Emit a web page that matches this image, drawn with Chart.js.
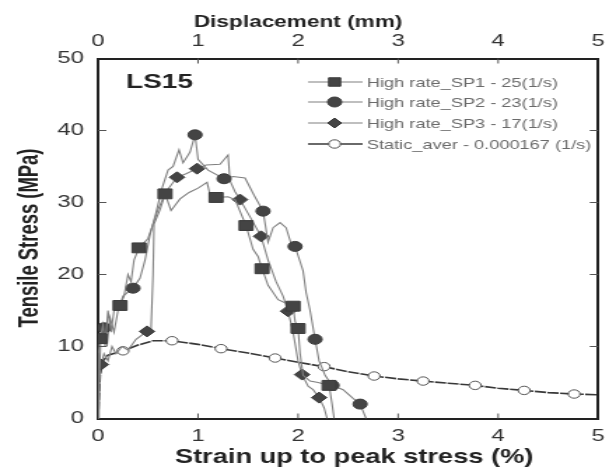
<!DOCTYPE html>
<html>
<head>
<meta charset="utf-8">
<script src="https://cdn.jsdelivr.net/npm/chart.js@4.4.1/dist/chart.umd.min.js"></script>
<style>
  html, body { margin: 0; padding: 0; background: #fff; overflow: hidden; }
  #chart { display: block; width: 616px !important; height: 471px !important; }
</style>
</head>
<body>
<canvas id="chart" width="440" height="471" style="width:616px;height:471px"></canvas>
<script>
// strain (%) and stress (MPa)
const sp1Strain = [0, 0.01, 0.0, 0.02, 0.05, 0.07, 0.1, 0.13, 0.17, 0.22, 0.26, 0.3, 0.33, 0.36, 0.41, 0.5, 0.55, 0.6, 0.67, 0.73, 0.82, 0.91, 1.0, 1.09, 1.13, 1.18, 1.3, 1.37, 1.48, 1.55, 1.6, 1.64, 1.7, 1.8, 1.88, 1.95, 1.97, 2.0, 2.02, 2.05, 2.12, 2.2, 2.31, 2.34, 2.36];
const sp1Stress = [0, 6, 9, 11.1, 13, 10, 15, 12, 16, 15.7, 17, 20, 19, 22, 23.7, 25, 27, 29, 31.2, 28.9, 30.5, 31.4, 32, 32.8, 30.5, 30.7, 30.8, 30.4, 26.8, 23.5, 22.5, 20.8, 18.5, 16.5, 16, 15.6, 13.5, 12.5, 9, 6, 5.2, 5, 4.6, 2, 0];
const sp1Marks = [3, 9, 14, 18, 25, 28, 31, 35, 37, 42];

const sp2Strain = [0, 0.02, 0.03, 0.06, 0.09, 0.12, 0.16, 0.2, 0.25, 0.35, 0.42, 0.47, 0.52, 0.58, 0.64, 0.7, 0.75, 0.81, 0.85, 0.92, 0.97, 1.0, 1.1, 1.26, 1.35, 1.47, 1.56, 1.65, 1.7, 1.75, 1.82, 1.88, 1.93, 1.97, 2.05, 2.08, 2.12, 2.17, 2.21, 2.27, 2.34, 2.45, 2.55, 2.62, 2.65, 2.68];
const sp2Stress = [0, 8, 12, 12.6, 10, 14, 12, 15, 17, 18.1, 19.5, 22, 25.5, 28.6, 32, 34.5, 35, 37.3, 35.5, 37, 39.4, 36, 34.5, 33.3, 33.6, 33.4, 31, 28.8, 24.5, 26.5, 27.2, 26.5, 24.3, 23.9, 20.5, 17.5, 15, 11, 8, 6, 4.6, 4, 2.8, 2, 1, 0];
const sp2Marks = [3, 9, 20, 23, 27, 33, 37, 40, 43];

const sp3Strain = [0, 0.01, 0.03, 0.06, 0.1, 0.14, 0.18, 0.24, 0.3, 0.38, 0.49, 0.53, 0.55, 0.56, 0.62, 0.68, 0.79, 0.88, 0.99, 1.08, 1.22, 1.3, 1.32, 1.37, 1.42, 1.52, 1.63, 1.7, 1.78, 1.85, 1.9, 1.95, 2.0, 2.04, 2.1, 2.15, 2.21, 2.26, 2.29];
const sp3Stress = [0, 5, 7.5, 9, 8, 10, 9, 10, 9.5, 11, 12.1, 12.5, 20, 27, 29, 31.5, 33.5, 34, 34.7, 35.2, 35.3, 36.6, 33, 31.5, 30.4, 28, 25.3, 22, 19, 17, 14.9, 12, 8, 6.1, 4.5, 4, 2.9, 1.5, 0];
const sp3Marks = [2, 10, 16, 18, 24, 26, 30, 33, 36];

const staticStrain = [0, 0.02, 0.05, 0.1, 0.25, 0.4, 0.55, 0.74, 1.0, 1.23, 1.5, 1.77, 2.0, 2.26, 2.5, 2.76, 3.0, 3.25, 3.5, 3.77, 4.0, 4.26, 4.5, 4.76, 5.0];
const staticStress = [0, 6, 8, 8.8, 9.4, 10.2, 10.8, 10.8, 10.3, 9.7, 9.1, 8.4, 7.8, 7.2, 6.5, 5.9, 5.5, 5.2, 4.9, 4.6, 4.2, 3.9, 3.6, 3.4, 3.3];
const staticMarks = [4, 7, 9, 11, 13, 15, 17, 19, 21, 23];

const seriesNames = [
  "High rate_SP1 - 25(1/s)",
  "High rate_SP2 - 23(1/s)",
  "High rate_SP3 - 17(1/s)",
  "Static_aver - 0.000167 (1/s)",
];
const xTicks = [0, 1, 2, 3, 4, 5];
const yTicks = [0, 10, 20, 30, 40, 50];
const specimen = "LS15";
const xTitle = "Strain up to peak stress (%)";
const x2Title = "Displacement (mm)";
const yTitle = "Tensile Stress (MPa)";

const FONT = "'Liberation Sans', Arial, sans-serif";

function toPoints(xs, ys) {
  return xs.map((x, i) => ({ x: x, y: ys[i] }));
}

function makeSet(label, xs, ys, marks, style, radius, fill, border) {
  return {
    label: label,
    data: toPoints(xs, ys),
    showLine: true,
    borderColor: border,
    borderWidth: style.width,
    borderDash: style.dash || [],
    pointStyle: style.point,
    pointRadius: (c) => (marks.includes(c.dataIndex) ? radius : 0),
    pointBackgroundColor: fill,
    pointBorderColor: style.pointBorder,
    pointBorderWidth: 1,
    tension: 0,
  };
}

const datasets = [
  makeSet(seriesNames[0], sp1Strain, sp1Stress, sp1Marks,
    { width: 1.1, point: "rect", pointBorder: "#3c3c3c" }, 7, "#444", "#808080"),
  makeSet(seriesNames[1], sp2Strain, sp2Stress, sp2Marks,
    { width: 1.1, point: "circle", pointBorder: "#3c3c3c" }, 5, "#444", "#808080"),
  makeSet(seriesNames[2], sp3Strain, sp3Stress, sp3Marks,
    { width: 1.1, point: "rectRot", pointBorder: "#3c3c3c" }, 5.5, "#444", "#808080"),
  makeSet(seriesNames[3], staticStrain, staticStress, staticMarks,
    { width: 1.6, dash: [8, 1], point: "circle", pointBorder: "#555" }, 4.2, "#fff", "#383838"),
];

// draw text squeezed or stretched to a target width
function fitText(ctx, text, x, y, width) {
  const w = ctx.measureText(text).width;
  ctx.save();
  ctx.translate(x, y);
  ctx.scale(width / w, 1);
  ctx.fillText(text, 0, 0);
  ctx.restore();
}

// axis titles, inward ticks, specimen label and in-plot legend
const decorations = {
  id: "decorations",
  afterDraw(chart) {
    const ctx = chart.ctx;
    const a = chart.chartArea;
    const xs = chart.scales.x, ys = chart.scales.y;
    ctx.save();
    ctx.strokeStyle = "#555";
    ctx.lineWidth = 1;
    ctx.beginPath();
    xTicks.slice(1, -1).forEach((v) => {
      const px = xs.getPixelForValue(v);
      ctx.moveTo(px, a.bottom); ctx.lineTo(px, a.bottom - 5);
      ctx.moveTo(px, a.top); ctx.lineTo(px, a.top + 5);
    });
    yTicks.slice(1, -1).forEach((v) => {
      const py = ys.getPixelForValue(v);
      ctx.moveTo(a.left, py); ctx.lineTo(a.left + 6, py);
      ctx.moveTo(a.right, py); ctx.lineTo(a.right - 6, py);
    });
    ctx.stroke();

    // axis titles
    ctx.fillStyle = "#222";
    ctx.textAlign = "center";
    ctx.textBaseline = "alphabetic";
    ctx.font = "bold 21px " + FONT;
    fitText(ctx, xTitle, xs.getPixelForValue(2.56), 463, 256);
    ctx.font = "bold 16px " + FONT;
    fitText(ctx, x2Title, xs.getPixelForValue(2.0), 27, 149);
    ctx.save();
    ctx.translate(27, 238);
    ctx.rotate(-Math.PI / 2);
    ctx.font = "bold 21px " + FONT;
    fitText(ctx, yTitle, 0, 0, 179);
    ctx.restore();

    ctx.textAlign = "left";
    ctx.textBaseline = "middle";
    ctx.font = "bold 20px " + FONT;
    ctx.fillText(specimen, 90, 82);

    const rows = [82, 102, 123, 144];
    chart.data.datasets.forEach((ds, i) => {
      const y = rows[i];
      ctx.strokeStyle = ds.borderColor;
      ctx.lineWidth = ds.borderWidth;
      ctx.beginPath();
      ctx.moveTo(220, y); ctx.lineTo(259, y);
      ctx.stroke();
      ctx.fillStyle = ds.pointBackgroundColor;
      ctx.strokeStyle = ds.pointBorderColor;
      ctx.lineWidth = 1;
      const r = ds.pointStyle === "rect" ? 6 : (i === 3 ? 4.2 : 5);
      Chart.helpers.drawPoint(ctx, { pointStyle: ds.pointStyle, radius: r, rotation: 0, borderWidth: 1 }, 239, y);
      ctx.fillStyle = "#6a6a6a";
      ctx.font = "13px " + FONT;
      ctx.fillText(ds.label, 262, y + 1);
    });
    ctx.restore();
  },
};

const tickFont = { family: FONT, size: 17 };

new Chart(document.getElementById("chart"), {
  type: "scatter",
  data: { datasets: datasets },
  options: {
    responsive: false,
    animation: false,
    events: [],
    layout: { padding: 0 },
    plugins: { legend: { display: false }, tooltip: { enabled: false } },
    scales: {
      x: {
        type: "linear", position: "bottom", min: 0, max: 5,
        afterFit: (s) => { s.height = 52.5; },
        afterBuildTicks: (s) => { s.ticks = xTicks.map((v) => ({ value: v })); },
        ticks: { color: "#333", font: tickFont, padding: 8, maxRotation: 0 },
        grid: { drawOnChartArea: false, drawTicks: false },
        border: { color: "#222", width: 2 },
      },
      x2: {
        type: "linear", position: "top", min: 0, max: 5,
        afterFit: (s) => { s.height = 58.5; },
        afterBuildTicks: (s) => { s.ticks = xTicks.map((v) => ({ value: v })); },
        ticks: { color: "#333", font: tickFont, padding: 7, maxRotation: 0 },
        grid: { drawOnChartArea: false, drawTicks: false },
        border: { color: "#222", width: 2 },
      },
      y: {
        type: "linear", position: "left", min: 0, max: 50,
        afterFit: (s) => { s.width = 70; },
        afterBuildTicks: (s) => { s.ticks = yTicks.map((v) => ({ value: v })); },
        ticks: { color: "#333", font: tickFont, padding: 10 },
        grid: { drawOnChartArea: false, drawTicks: false },
        border: { color: "#222", width: 2 },
      },
      y2: {
        type: "linear", position: "right", min: 0, max: 50,
        afterFit: (s) => { s.width = 8.6; },
        ticks: { display: false },
        grid: { drawOnChartArea: false, drawTicks: false },
        border: { color: "#222", width: 2 },
      },
    },
  },
  plugins: [decorations],
});
</script>
</body>
</html>
